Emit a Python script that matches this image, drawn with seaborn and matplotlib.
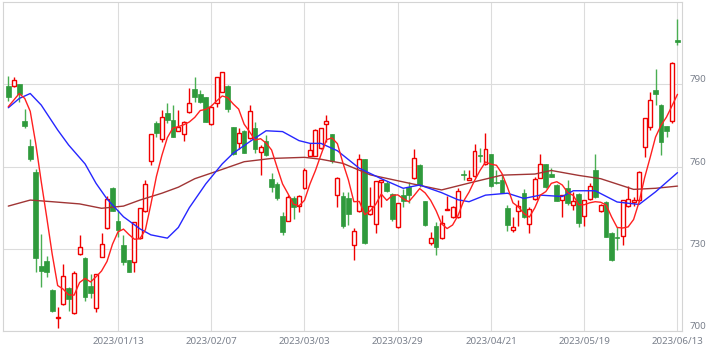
import numpy as np
import pandas as pd
import matplotlib
matplotlib.use("Agg")
import matplotlib.pyplot as plt
import seaborn as sns

# trading days on the Tokyo exchange (weekday holidays removed)
jp_holidays = ["2023-01-02", "2023-01-03", "2023-01-09", "2023-02-23",
               "2023-03-21", "2023-05-03", "2023-05-04", "2023-05-05"]
days = pd.bdate_range("2022-12-13", "2023-06-13", freq="C", holidays=jp_holidays)

open_ = [789.4, 789.4, 790.1, 776.6, 767.5, 758.0, 723.7, 725.5, 715.0, 704.6,
         709.9, 715.8, 706.5, 728.0, 726.8, 716.4, 708.3, 727.1, 737.5, 752.2,
         740.1, 731.4, 725.9, 725.3, 733.8, 743.8, 761.9, 775.8, 770.0, 779.7,
         777.2, 773.1, 771.9, 779.8, 788.2, 786.4, 785.3, 775.4, 783.1, 787.3,
         789.4, 774.3, 768.5, 773.0, 770.3, 774.0, 765.2, 769.3, 755.4, 753.6,
         742.0, 740.3, 748.4, 745.6, 752.1, 764.0, 764.0, 766.7, 775.4, 771.9,
         749.6, 749.3, 748.4, 731.4, 743.8, 762.7, 742.7, 739.0, 754.5, 754.1,
         749.9, 737.8, 749.6, 752.4, 755.7, 760.6, 747.4, 732.2, 738.3, 733.8,
         744.2, 741.5, 741.5, 757.0, 755.1, 756.6, 764.2, 760.8, 764.6, 754.5,
         755.1, 744.8, 736.9, 743.8, 750.3, 739.0, 748.1, 756.0, 760.8, 757.3,
         753.3, 747.8, 752.1, 746.0, 749.9, 742.0, 748.1, 758.8, 743.9, 747.2,
         735.9, 734.4, 734.7, 745.6, 747.2, 747.8, 767.3, 774.3, 788.0, 782.5,
         774.8, 776.6, 806.2]
high = [793.0, 792.6, 790.3, 780.9, 770.0, 759.0, 735.3, 727.4, 715.3, 708.9,
        724.3, 716.0, 721.9, 735.0, 727.0, 720.7, 720.9, 735.6, 749.3, 752.6,
        744.2, 735.0, 726.1, 739.9, 745.0, 755.3, 772.0, 776.6, 780.7, 783.1,
        782.5, 780.7, 776.6, 788.8, 792.6, 788.0, 785.5, 782.0, 792.8, 794.6,
        789.8, 774.5, 774.0, 773.2, 782.5, 776.4, 767.9, 771.5, 757.6, 754.5,
        743.5, 749.6, 749.3, 749.5, 759.4, 768.5, 773.6, 774.2, 778.8, 772.1,
        756.2, 750.8, 750.8, 737.5, 764.6, 762.9, 752.4, 754.9, 755.3, 754.9,
        750.3, 746.8, 751.7, 754.5, 766.3, 760.8, 747.6, 736.2, 739.9, 742.3,
        749.3, 745.6, 752.1, 758.8, 758.8, 768.1, 766.7, 772.4, 764.8, 758.8,
        756.9, 746.0, 741.5, 747.8, 751.7, 745.4, 756.3, 764.6, 761.0, 759.4,
        753.5, 749.8, 755.1, 750.8, 750.3, 748.0, 753.9, 764.6, 746.2, 747.4,
        736.1, 738.1, 748.0, 752.9, 749.0, 758.3, 777.8, 787.3, 795.5, 782.7,
        775.0, 798.3, 814.0]
low = [784.0, 789.2, 783.7, 774.0, 762.1, 721.4, 716.2, 719.6, 707.0, 701.2,
       709.6, 707.4, 706.3, 727.8, 711.0, 711.9, 706.8, 727.0, 737.3, 743.7,
       734.4, 724.1, 721.4, 721.4, 733.6, 743.6, 760.6, 770.7, 769.1, 775.8,
       770.7, 773.0, 769.4, 779.6, 783.7, 783.1, 776.2, 775.2, 781.9, 787.1,
       780.0, 764.4, 766.3, 764.9, 770.1, 765.1, 756.9, 764.0, 750.8, 747.8,
       735.0, 740.1, 740.8, 743.3, 751.9, 763.8, 763.8, 766.5, 769.1, 761.2,
       745.4, 737.5, 738.7, 725.9, 743.6, 731.8, 742.5, 735.6, 745.4, 750.6,
       740.2, 737.6, 745.1, 746.8, 755.5, 752.7, 738.5, 731.4, 727.7, 733.6,
       744.0, 741.3, 741.3, 755.1, 755.0, 756.4, 761.8, 760.6, 752.7, 753.7,
       750.3, 736.6, 736.2, 738.3, 741.1, 735.6, 747.9, 755.8, 752.2, 756.1,
       747.4, 741.7, 746.0, 744.2, 738.1, 738.3, 747.9, 748.6, 743.5, 734.2,
       725.7, 729.6, 731.4, 745.4, 745.6, 747.2, 763.6, 773.4, 782.5, 764.2,
       770.9, 775.8, 804.4]
close = [785.5, 791.6, 786.4, 774.9, 762.7, 726.8, 722.0, 721.6, 707.4, 705.2,
         720.2, 711.6, 721.1, 730.5, 712.5, 714.0, 720.7, 731.6, 748.1, 743.9,
         736.9, 725.3, 721.6, 739.7, 744.8, 753.5, 771.8, 772.4, 778.2, 777.0,
         770.9, 774.3, 776.2, 783.1, 785.3, 783.7, 776.4, 781.8, 792.6, 794.4,
         780.9, 764.6, 772.4, 765.1, 780.3, 766.3, 767.0, 764.2, 752.7, 748.6,
         736.2, 748.8, 745.4, 749.3, 758.8, 766.1, 773.4, 774.0, 776.6, 762.2,
         756.0, 738.4, 742.7, 736.6, 762.7, 732.0, 745.6, 754.7, 755.1, 751.2,
         740.8, 746.6, 747.6, 749.6, 763.0, 753.3, 738.7, 733.8, 730.5, 739.3,
         744.6, 745.4, 751.1, 756.8, 755.7, 765.7, 763.9, 766.3, 752.9, 753.9,
         750.5, 738.7, 737.8, 745.6, 741.7, 744.4, 755.4, 760.8, 752.4, 756.3,
         747.6, 749.6, 746.6, 747.4, 739.3, 747.8, 752.9, 748.8, 746.0, 734.4,
         725.9, 733.8, 747.8, 748.1, 747.8, 758.1, 777.6, 784.3, 786.4, 769.1,
         773.1, 797.9, 805.6]

# moving averages (5 / 25 / 75 day)
ma5 = [781.9, 784.3, 786.7, 784.9, 780.2, 768.5, 754.6, 741.6, 728.1, 716.6,
       715.3, 713.2, 713.1, 717.7, 719.2, 717.9, 719.8, 721.9, 725.4, 731.7,
       736.2, 737.2, 735.2, 733.5, 733.7, 737.0, 746.3, 756.4, 764.1, 770.6,
       774.1, 774.6, 775.3, 776.3, 778.0, 780.5, 780.9, 782.1, 784.0, 785.8,
       785.2, 782.9, 781.0, 775.5, 772.7, 769.7, 770.2, 768.6, 766.1, 759.8,
       753.7, 750.1, 746.3, 745.7, 747.7, 753.7, 758.6, 764.3, 769.8, 770.5,
       768.4, 761.4, 755.2, 747.2, 747.3, 742.5, 743.9, 746.3, 750.0, 747.7,
       749.5, 749.7, 748.3, 747.2, 749.5, 752.0, 750.4, 747.7, 743.9, 739.1,
       737.4, 738.7, 742.2, 747.4, 750.7, 754.9, 758.6, 761.7, 760.9, 760.5,
       757.5, 752.5, 746.8, 745.3, 742.9, 741.6, 745.0, 749.6, 750.9, 753.9,
       754.5, 753.3, 750.5, 749.5, 746.1, 746.1, 746.8, 747.2, 747.0, 746.0,
       741.6, 737.8, 737.6, 738.0, 740.7, 747.1, 755.9, 763.2, 770.8, 775.1,
       778.1, 782.2, 786.4]
ma25_day = [0, 2, 4, 6, 9, 11, 14, 16, 18, 21, 24, 26, 29, 31, 33, 36, 39, 41,
            44, 47, 50, 53, 55, 57, 60, 62, 64, 68, 72, 75, 79, 82, 84, 87, 91,
            94, 97, 101, 103, 107, 111, 115, 118, 122]
ma25 = [781.5, 784.9, 786.7, 782.5, 773.4, 767.9, 761.0, 753.9, 748.2, 741.7,
        737.3, 735.1, 733.9, 737.8, 745.0, 753.7, 761.0, 764.9, 769.1, 773.1,
        772.8, 769.5, 768.5, 768.5, 765.8, 762.6, 759.4, 755.6, 752.1, 753.3,
        750.5, 747.9, 747.2, 749.6, 750.3, 748.4, 749.6, 749.1, 751.2, 751.2,
        747.1, 746.2, 750.8, 757.8]
ma75_day = [0, 4, 8, 13, 17, 21, 24, 28, 31, 34, 39, 43, 48, 54, 57, 61, 66,
            73, 79, 85, 90, 96, 99, 104, 108, 114, 118, 122]
ma75 = [745.6, 747.8, 747.2, 746.4, 744.8, 745.6, 747.8, 750.3, 752.5, 755.6,
        759.0, 761.8, 763.0, 763.4, 762.7, 761.2, 757.0, 754.0, 751.5, 754.5,
        756.9, 757.3, 758.6, 756.8, 755.6, 751.7, 752.1, 752.9]

tick_dates = ["2023/01/13", "2023/02/07", "2023/03/03", "2023/03/29",
              "2023/04/21", "2023/05/19", "2023/06/13"]
price_ticks = [700, 730, 760, 790]

sns.set_style("white")
plt.rcParams["font.family"] = ["Noto Sans", "DejaVu Sans"]

RED = "#f00000"
GREEN = "#2f9a3c"
GRID = "#dcdcdc"
TXT = "#7a808c"

fig = plt.figure(figsize=(7.2, 3.52), dpi=100)
ax = fig.add_axes([3.3 / 720, 21 / 352, 679 / 720, 328.7 / 352])

idx = np.arange(len(days))
o = np.array(open_)
h = np.array(high)
l = np.array(low)
c = np.array(close)
up = c >= o
body_lo = np.minimum(o, c)
body_h = np.maximum(np.abs(c - o), 0.35)

# wicks, then bodies (red = hollow up day, green = filled down day)
ax.vlines(idx[up], l[up], h[up], color=RED, lw=1, zorder=2)
ax.vlines(idx[~up], l[~up], h[~up], color="#4aae52", lw=1, zorder=2)
ax.bar(idx[up], body_h[up], bottom=body_lo[up], width=0.72,
       facecolor="white", edgecolor=RED, lw=1, zorder=3)
ax.bar(idx[~up], body_h[~up], bottom=body_lo[~up], width=0.85,
       color=GREEN, edgecolor=GREEN, lw=0.5, zorder=3)

sns.lineplot(x=ma75_day, y=ma75, ax=ax, color="#a03535", lw=1, zorder=4)
sns.lineplot(x=ma25_day, y=ma25, ax=ax, color="#2626ff", lw=1, zorder=4)
sns.lineplot(x=idx, y=ma5, ax=ax, color="#ff2020", lw=1, zorder=5)

ax.set_xlim(-0.91, 122.88)
ax.set_ylim(700, 820)

date_labels = days.strftime("%Y/%m/%d")
tick_pos = [int(np.where(date_labels == d)[0][0]) for d in tick_dates]
ax.set_xticks(tick_pos)
ax.set_xticklabels(tick_dates)
ax.set_yticks(price_ticks)
ax.set_yticklabels([str(v) for v in price_ticks])
ax.yaxis.tick_right()
ax.tick_params(axis="x", length=0, pad=4, labelsize=7, labelcolor=TXT)
ax.tick_params(axis="y", length=0, pad=5, labelsize=7, labelcolor=TXT)
plt.setp(ax.get_yticklabels(), va="bottom")
ax.grid(True, color=GRID, lw=0.8)
ax.set_axisbelow(True)
for s in ax.spines.values():
    s.set_color("#d4d4d4")
    s.set_linewidth(0.8)
ax.set_xlabel("")
ax.set_ylabel("")

fig.savefig("out.png", dpi=100)
